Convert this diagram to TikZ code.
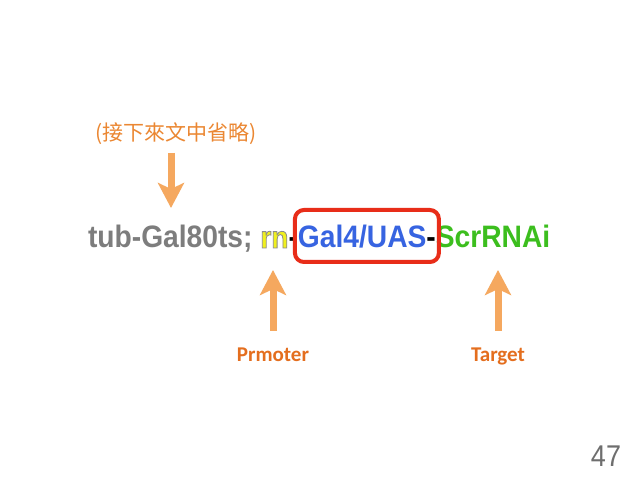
\documentclass[tikz,border=0pt]{standalone}
\usepackage{fontspec}
\usetikzlibrary{arrows.meta,fit}
\newfontfamily\mainsans[FakeStretch=0.91]{Liberation Sans Bold}
\newfontfamily\numfont[FakeStretch=0.9]{Liberation Sans}
\newfontfamily\labfont{Carlito Bold}
\newfontfamily\cjkfont{Noto Sans CJK TC}
\definecolor{txtgray}{RGB}{125,125,125}
\definecolor{genblue}{RGB}{55,100,225}
\definecolor{gengreen}{RGB}{60,190,30}
\definecolor{rnyellow}{RGB}{240,240,30}
\definecolor{arrorange}{RGB}{245,168,95}
\definecolor{laborange}{RGB}{228,110,30}
\definecolor{cjkorange}{RGB}{235,135,50}
\definecolor{boxred}{RGB}{232,45,25}
\definecolor{numgray}{RGB}{110,110,110}
\newcommand{\outlinedtext}[1]{\special{pdf:literal 2 Tr 0.8 w 0.55 0.55 0.55 RG}#1\special{pdf:literal 0 Tr}}
\tikzset{
  seg/.style={inner sep=0pt, outer sep=0pt, anchor=base west, font=\mainsans\fontsize{31}{36}\selectfont},
  bigarrow/.style={draw=arrorange, line width=7pt, -{Stealth[length=25pt,width=26pt,inset=6pt]}},
  lab/.style={inner sep=0pt, anchor=base, text=laborange, font=\labfont\fontsize{21}{25}\selectfont}
}
\begin{document}
\begin{tikzpicture}[x=1pt,y=-1pt]
\useasboundingbox[fill=white] (0,0) rectangle (638,478);
% Chinese note
\node[inner sep=0pt, anchor=base, text=cjkorange, font=\cjkfont\fontsize{21}{26}\selectfont] (note) at (176,141) {(接下來文中省略)};
% main genotype line
\node[seg, text=txtgray] (tub) at (88,248) {tub-Gal80ts;\kern0.25em};
\node[seg, text=rnyellow] (rn) at (tub.base east) {\outlinedtext{rn}};
\node[seg, text=black] (h1) at (rn.base east) {-};
\node[seg, text=genblue] (gal) at (h1.base east) {Gal4/UAS};
\node[seg, text=black] (h2) at (gal.base east) {-};
\node[seg, text=gengreen] (scr) at (h2.base east) {ScrRNAi};
\node[draw=boxred, line width=4pt, rounded corners=9pt, inner xsep=3pt, inner ysep=0pt, fit={(gal.west|-0,210) (h2.east|-0,262)}] (box) {};
% arrows
\coordinate (dtop) at (171,153);
\coordinate (dtip) at (171,208);
\draw[bigarrow] (dtop) -- (dtip);
\node[lab] (prm) at (273,362) {Prmoter};
\node[lab] (tgt) at (498,362) {Target};
\coordinate (u1base) at (273,331);
\coordinate (u2base) at (498,331);
\coordinate (u1tip) at (273,270);
\coordinate (u2tip) at (498,270);
\draw[bigarrow] (u1base) -- (u1tip);
\draw[bigarrow] (u2base) -- (u2tip);
% page number
\node[inner sep=0pt, anchor=base, text=numgray, font=\numfont\fontsize{30}{34}\selectfont] (pg) at (606,467) {47};
\end{tikzpicture}
\end{document}
